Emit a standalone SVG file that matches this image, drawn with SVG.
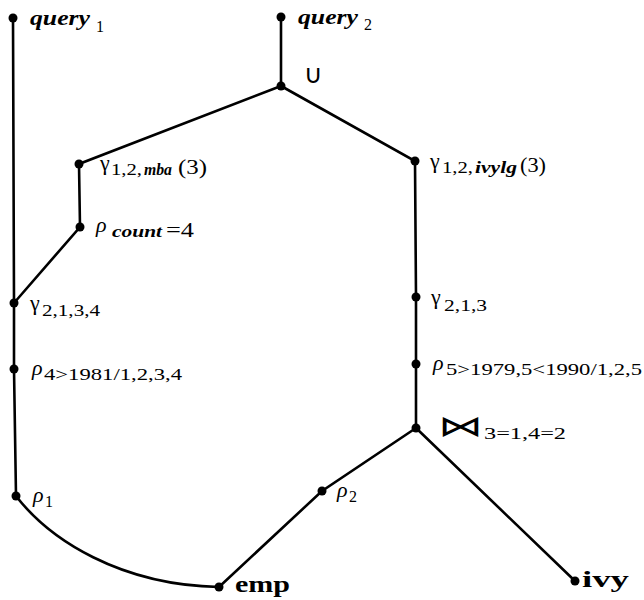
<svg xmlns="http://www.w3.org/2000/svg" width="644" height="600" viewBox="0 0 644 600">
<style>
.e{stroke:#000;stroke-width:2.6;fill:none;stroke-linecap:round}
.d{fill:#000}
.t{font-family:"Liberation Serif","DejaVu Serif",serif;font-size:22px;fill:#000}
.s{font-size:16px}
.p{font-size:20px}
.i{font-style:italic}
.b{font-weight:bold}
</style>
<rect width="644" height="600" fill="#fff"/>
<g id="edges">
<path class="e" d="M13,18 L14,303 L14,369 L16,496"/>
<path class="e" d="M281,17 L281,86"/>
<path class="e" d="M281,86 L79,164 L80,227 L14,303"/>
<path class="e" d="M281,86 L415,161 L416,297 L416,364 L416,428"/>
<path class="e" d="M416,428 L322,491 L219,587"/>
<path class="e" d="M416,428 L575,581"/>
<path class="e" d="M16,496 C50,540 120,585 219,587"/>
</g>
<g id="query1"><circle class="d" cx="13" cy="18" r="4.5"/><text class="t"><tspan class="i b" x="30" y="25" textLength="60" lengthAdjust="spacingAndGlyphs">query</tspan><tspan class="s" x="96" y="32">1</tspan></text></g>
<g id="query2"><circle class="d" cx="281" cy="17" r="4.5"/><text class="t"><tspan class="i b" x="298" y="24" textLength="60" lengthAdjust="spacingAndGlyphs">query</tspan><tspan class="s" x="364" y="30">2</tspan></text></g>
<g id="union"><circle class="d" cx="281" cy="86" r="4.5"/><text x="304" y="83" style="font-family:'DejaVu Sans',sans-serif;font-size:26px">∪</text></g>
<g id="gamma_mba"><circle class="d" cx="79" cy="164" r="4.5"/><text class="t"><tspan x="100" y="170">γ</tspan><tspan class="s" x="111" y="175" textLength="31" lengthAdjust="spacingAndGlyphs">1,2,</tspan><tspan class="s i b" x="144" y="175" textLength="28" lengthAdjust="spacingAndGlyphs">mba</tspan><tspan class="p" x="178" y="174" textLength="29" lengthAdjust="spacingAndGlyphs">(3)</tspan></text></g>
<g id="rho_count"><circle class="d" cx="80" cy="227" r="4.5"/><text class="t"><tspan class="i" x="96" y="232">ρ</tspan><tspan class="s i b" x="112" y="237" textLength="50" lengthAdjust="spacingAndGlyphs">count</tspan><tspan class="p" x="166" y="237" textLength="28" lengthAdjust="spacingAndGlyphs">=4</tspan></text></g>
<g id="gamma_2134"><circle class="d" cx="14" cy="303" r="4.5"/><text class="t"><tspan x="30" y="310">γ</tspan><tspan class="s" x="42" y="316" textLength="58" lengthAdjust="spacingAndGlyphs">2,1,3,4</tspan></text></g>
<g id="rho_4"><circle class="d" cx="14" cy="369" r="4.5"/><text class="t"><tspan class="i" x="32" y="375">ρ</tspan><tspan class="s" x="44" y="380" textLength="138" lengthAdjust="spacingAndGlyphs">4&gt;1981/1,2,3,4</tspan></text></g>
<g id="rho_1"><circle class="d" cx="16" cy="496" r="4.5"/><text class="t"><tspan class="i" x="33" y="502">ρ</tspan><tspan class="s" x="45" y="507">1</tspan></text></g>
<g id="emp"><circle class="d" cx="219" cy="587" r="4.5"/><text class="t b" x="235" y="592" style="font-size:24px" textLength="55" lengthAdjust="spacingAndGlyphs">emp</text></g>
<g id="gamma_ivylg"><circle class="d" cx="415" cy="161" r="4.5"/><text class="t"><tspan x="430" y="168">γ</tspan><tspan class="s" x="442" y="173" textLength="31" lengthAdjust="spacingAndGlyphs">1,2,</tspan><tspan class="s i b" x="475" y="173" textLength="42" lengthAdjust="spacingAndGlyphs">ivylg</tspan><tspan class="p" x="520" y="172" textLength="26" lengthAdjust="spacingAndGlyphs">(3)</tspan></text></g>
<g id="gamma_213"><circle class="d" cx="416" cy="297" r="4.5"/><text class="t"><tspan x="431" y="304">γ</tspan><tspan class="s" x="444" y="311" textLength="43" lengthAdjust="spacingAndGlyphs">2,1,3</tspan></text></g>
<g id="rho_5"><circle class="d" cx="416" cy="364" r="4.5"/><text class="t"><tspan class="i" x="433" y="370">ρ</tspan><tspan class="s" x="446" y="375" textLength="196" lengthAdjust="spacingAndGlyphs">5&gt;1979,5&lt;1990/1,2,5</tspan></text></g>
<g id="join"><circle class="d" cx="416" cy="428" r="4.5"/><text transform="translate(438,436) scale(1.55,1)" style="font-family:'DejaVu Sans',sans-serif;font-size:29px">⋈</text><text class="t s" x="484" y="439" textLength="82" lengthAdjust="spacingAndGlyphs">3=1,4=2</text></g>
<g id="rho_2"><circle class="d" cx="322" cy="491" r="4.5"/><text class="t"><tspan class="i" x="337" y="497">ρ</tspan><tspan class="s" x="349" y="502">2</tspan></text></g>
<g id="ivy"><circle class="d" cx="575" cy="581" r="4.5"/><text class="t b" x="582" y="587" style="font-size:24px" textLength="47" lengthAdjust="spacingAndGlyphs">ivy</text></g>
</svg>
